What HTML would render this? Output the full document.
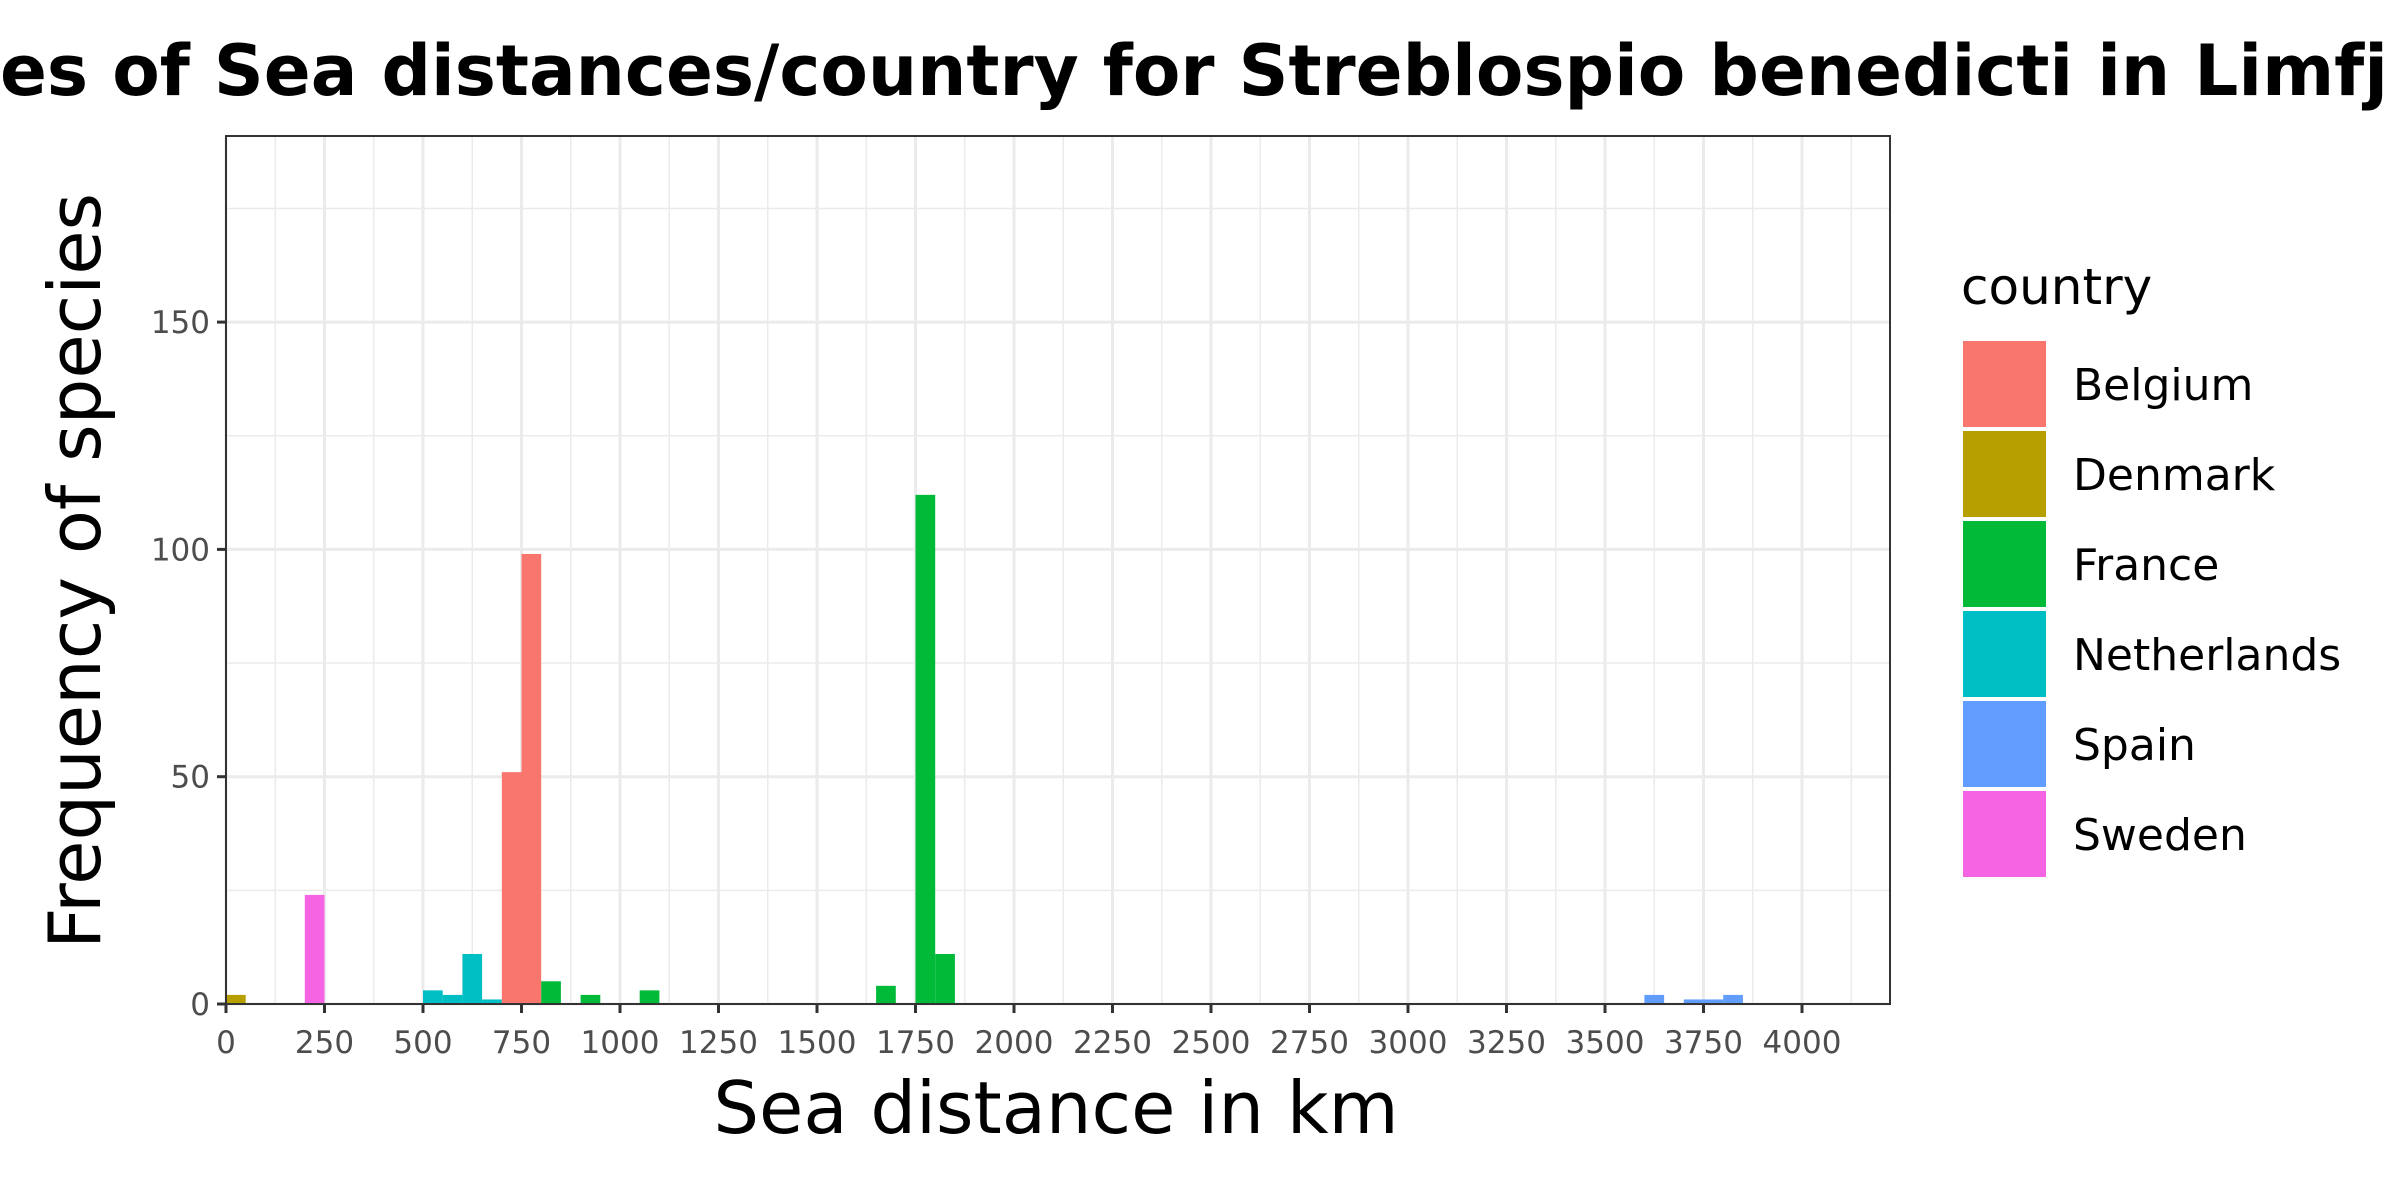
<!DOCTYPE html>
<html><head><meta charset="utf-8"><style>
html,body{margin:0;padding:0;background:#fff;}
svg{display:block;font-family:"DejaVu Sans","Liberation Sans",sans-serif;}
</style></head><body>
<svg id="chart" width="2400" height="1200" viewBox="0 0 2400 1200">
<text x="0" y="95" font-size="70" font-weight="bold" textLength="2388" lengthAdjust="spacingAndGlyphs">es of Sea distances/country for Streblospio benedicti in Limfj</text>
<g id="grid"></g>
<g id="bars"></g>
<rect x="226" y="136" width="1664" height="868" fill="none" stroke="#333" stroke-width="2"/>
<g id="axes"></g>
<text x="1056" y="1133" font-size="72" text-anchor="middle">Sea distance in km</text>
<text transform="translate(100,571) rotate(-90)" font-size="72" text-anchor="middle">Frequency of species</text>
<g id="legend">
<text x="1961" y="304" font-size="50">country</text>
</g>
</svg>
<script>
const countries = ["Belgium","Denmark","France","Netherlands","Spain","Sweden"];
const colors = ["#F8766D","#B79F00","#00BA38","#00BFC4","#619CFF","#F564E3"];
const binStarts = [0,200,500,550,600,650,700,750,800,900,1050,1650,1750,1800,3600,3700,3750,3800];
const binCountry = ["Denmark","Sweden","Netherlands","Netherlands","Netherlands","Netherlands","Belgium","Belgium","France","France","France","France","France","France","Spain","Spain","Spain","Spain"];
const binCounts = [2,24,3,2,11,1,51,99,5,2,3,4,112,11,2,1,1,2];
const binWidth = 50;
const xTicks = [0,250,500,750,1000,1250,1500,1750,2000,2250,2500,2750,3000,3250,3500,3750,4000];
const yTicks = [0,50,100,150];
const NS="http://www.w3.org/2000/svg";
const X0=226, XR=1890, YT=136, YB=1004;
const xs = v => X0 + v*0.3940;
const ys = v => YB - v*4.546;
function mk(tag, attrs, parent){const e=document.createElementNS(NS,tag);for(const k in attrs)e.setAttribute(k,attrs[k]);parent.appendChild(e);return e;}
const grid=document.getElementById('grid'), bars=document.getElementById('bars'), axes=document.getElementById('axes'), legend=document.getElementById('legend');
mk('rect',{x:X0,y:YT,width:XR-X0,height:YB-YT,fill:'#fff'},grid);
for(let v=125; xs(v)<XR; v+=250){const l=mk('line',{x1:xs(v),x2:xs(v),y1:YT,y2:YB,stroke:'#ebebeb','stroke-width':1.5},grid);

}
for(let v=25; v<190; v+=50){const l=mk('line',{x1:X0,x2:XR,y1:ys(v),y2:ys(v),stroke:'#ebebeb','stroke-width':1.5},grid);

}
xTicks.forEach(t=>{const l=mk('line',{x1:xs(t),x2:xs(t),y1:YT,y2:YB,stroke:'#ebebeb','stroke-width':3},grid);


const tk=mk('line',{x1:xs(t),x2:xs(t),y1:YB,y2:YB+9,stroke:'#333','stroke-width':3},axes);


const tx=mk('text',{x:xs(t),y:1053,'font-size':31,'text-anchor':'middle',fill:'#4d4d4d'},axes);tx.textContent=t;

});
yTicks.forEach(t=>{const l=mk('line',{x1:X0,x2:XR,y1:ys(t),y2:ys(t),stroke:'#ebebeb','stroke-width':3},grid);


const tk=mk('line',{x1:X0-9,x2:X0,y1:ys(t),y2:ys(t),stroke:'#333','stroke-width':3},axes);


const tx=mk('text',{x:X0-16,y:ys(t)+11,'font-size':31,'text-anchor':'end',fill:'#4d4d4d'},axes);tx.textContent=t;

});
binStarts.forEach((b,i)=>{const c=colors[countries.indexOf(binCountry[i])];
const r=mk('rect',{x:xs(b),y:ys(binCounts[i]),width:xs(b+binWidth)-xs(b),height:ys(0)-ys(binCounts[i]),fill:c},bars);

});
countries.forEach((c,i)=>{const y=341+i*90;
const r=mk('rect',{x:1963,y:y,width:83,height:86,fill:colors[i]},legend);


const t=mk('text',{x:2073,y:y+59,'font-size':44},legend);t.textContent=c;

});
</script>
</body></html>
